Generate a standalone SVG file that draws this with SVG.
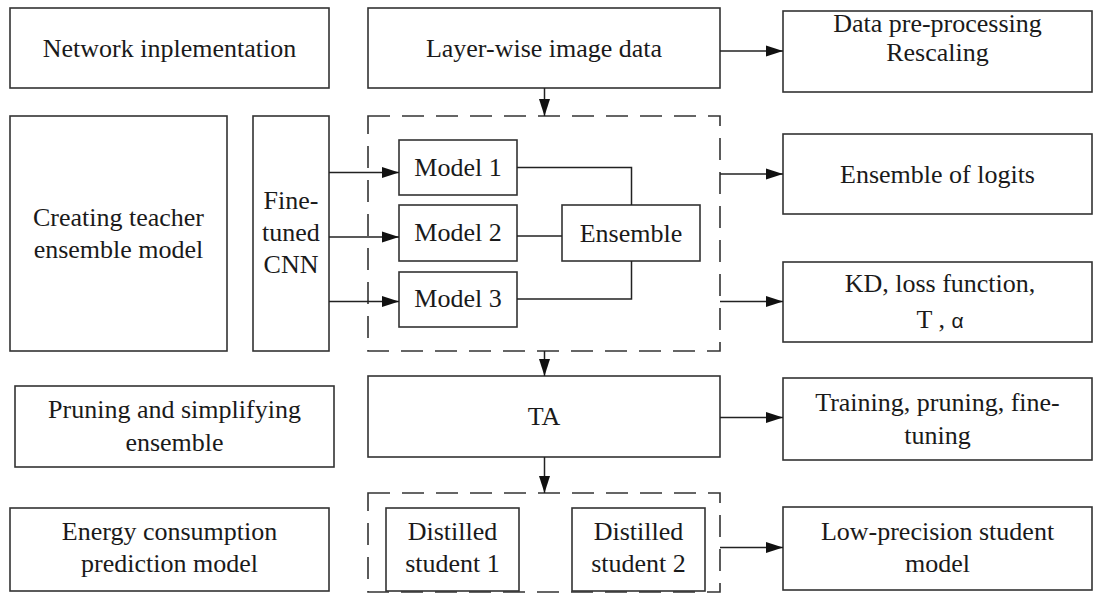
<svg xmlns="http://www.w3.org/2000/svg" width="1099" height="595" viewBox="0 0 1099 595">
  <style>
    .box { fill: #ffffff; stroke: #333333; stroke-width: 1.6; }
    .group { fill: none; stroke: #333333; stroke-width: 1.6; stroke-dasharray: 22 12; }
    .wire { fill: none; stroke: #222222; stroke-width: 1.5; }
    .arrow { fill: none; stroke: #222222; stroke-width: 1.5; marker-end: url(#head); }
    text { font-family: 'Liberation Serif', 'DejaVu Serif', serif; font-size: 26px; fill: #1a1a1a; text-anchor: middle; }
    .greek { font-family: 'Liberation Sans', 'DejaVu Sans', sans-serif; font-size: 21px; }
  </style>
  <defs>
    <marker id="head" markerUnits="userSpaceOnUse" markerWidth="18" markerHeight="12" refX="17" refY="6" orient="auto">
      <path d="M0,0.5 L17,6 L0,11.5 Z" fill="#111111"/>
    </marker>
  </defs>
  <rect width="1099" height="595" fill="#ffffff"/>

  <!-- left column: stage labels -->
  <g id="network-implementation">
    <rect class="box" x="10" y="8" width="319" height="80"/>
    <text x="169.5" y="57">Network inplementation</text>
  </g>
  <g id="creating-teacher">
    <rect class="box" x="10" y="116" width="217" height="235"/>
    <text x="118.5" y="226">Creating teacher</text>
    <text x="118.5" y="258">ensemble model</text>
  </g>
  <g id="fine-tuned-cnn">
    <rect class="box" x="253" y="116" width="76" height="235"/>
    <text x="291" y="209">Fine-</text>
    <text x="291" y="241">tuned</text>
    <text x="291" y="273">CNN</text>
  </g>
  <g id="pruning">
    <rect class="box" x="15" y="386" width="319" height="81"/>
    <text x="174.5" y="418">Pruning and simplifying</text>
    <text x="174.5" y="451">ensemble</text>
  </g>
  <g id="energy-model">
    <rect class="box" x="10" y="508" width="319" height="83"/>
    <text x="169.5" y="540">Energy consumption</text>
    <text x="169.5" y="572">prediction model</text>
  </g>

  <!-- middle column -->
  <g id="layer-wise-data">
    <rect class="box" x="368" y="8" width="352" height="80"/>
    <text x="544" y="57">Layer-wise image data</text>
  </g>
  <g id="teacher-ensemble">
    <rect class="group" x="368" y="116" width="352" height="235"/>
  </g>
  <g id="model-1">
    <rect class="box" x="399" y="140" width="118" height="55"/>
    <text x="458" y="176">Model 1</text>
  </g>
  <g id="model-2">
    <rect class="box" x="399" y="205" width="118" height="56"/>
    <text x="458" y="241">Model 2</text>
  </g>
  <g id="model-3">
    <rect class="box" x="399" y="272" width="118" height="55"/>
    <text x="458" y="307">Model 3</text>
  </g>
  <g id="ensemble">
    <rect class="box" x="562" y="205" width="138" height="56"/>
    <text x="631" y="242">Ensemble</text>
  </g>
  <g id="ta">
    <rect class="box" x="368" y="376" width="352" height="81"/>
    <text x="544" y="425">TA</text>
  </g>
  <g id="students">
    <rect class="group" x="368" y="493" width="352" height="99"/>
  </g>
  <g id="student-1">
    <rect class="box" x="386" y="508" width="133" height="83"/>
    <text x="452.5" y="540">Distilled</text>
    <text x="452.5" y="572">student 1</text>
  </g>
  <g id="student-2">
    <rect class="box" x="572" y="508" width="133" height="83"/>
    <text x="638.5" y="540">Distilled</text>
    <text x="638.5" y="572">student 2</text>
  </g>

  <!-- right column: outputs -->
  <g id="pre-processing">
    <rect class="box" x="783" y="11" width="309" height="81"/>
    <text x="937.5" y="32">Data pre-processing</text>
    <text x="937.5" y="61">Rescaling</text>
  </g>
  <g id="ensemble-logits">
    <rect class="box" x="783" y="134" width="309" height="80"/>
    <text x="937.5" y="183">Ensemble of logits</text>
  </g>
  <g id="kd-loss">
    <rect class="box" x="783" y="262" width="309" height="80"/>
    <text x="940" y="292">KD, loss function,</text>
    <text x="940" y="328">T ,  <tspan class="greek">α</tspan></text>
  </g>
  <g id="training">
    <rect class="box" x="783" y="378" width="309" height="82"/>
    <text x="937.5" y="411">Training, pruning, fine-</text>
    <text x="937.5" y="444">tuning</text>
  </g>
  <g id="low-precision">
    <rect class="box" x="783" y="507" width="309" height="83"/>
    <text x="937.5" y="540">Low-precision student</text>
    <text x="937.5" y="572">model</text>
  </g>

  <!-- connectors -->
  <g id="connectors">
    <line class="arrow" x1="720" y1="51" x2="783" y2="51"/>
    <line class="arrow" x1="544.5" y1="88" x2="544.5" y2="116"/>
    <line class="arrow" x1="329" y1="172.5" x2="399" y2="172.5"/>
    <line class="arrow" x1="329" y1="237" x2="399" y2="237"/>
    <line class="arrow" x1="329" y1="301.5" x2="399" y2="301.5"/>
    <polyline class="wire" points="517,167.5 631.5,167.5 631.5,205"/>
    <line class="wire" x1="517" y1="236" x2="562" y2="236"/>
    <polyline class="wire" points="517,299 631.5,299 631.5,261"/>
    <line class="arrow" x1="720" y1="174" x2="783" y2="174"/>
    <line class="arrow" x1="720" y1="301.5" x2="783" y2="301.5"/>
    <line class="arrow" x1="544.5" y1="351" x2="544.5" y2="376"/>
    <line class="arrow" x1="720" y1="417.5" x2="783" y2="417.5"/>
    <line class="arrow" x1="544.5" y1="457" x2="544.5" y2="493"/>
    <line class="arrow" x1="720" y1="547.5" x2="783" y2="547.5"/>
  </g>
</svg>
